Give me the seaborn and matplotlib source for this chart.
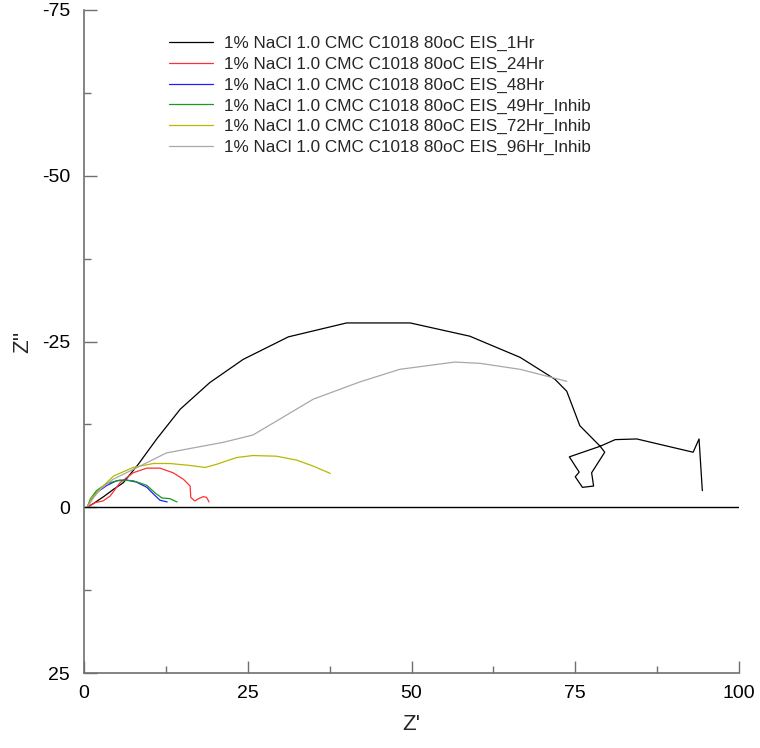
import numpy as np
import pandas as pd
import matplotlib
matplotlib.use("Agg")
import matplotlib.pyplot as plt
import seaborn as sns

labels = [
    "1% NaCl 1.0 CMC C1018 80oC EIS_1Hr",
    "1% NaCl 1.0 CMC C1018 80oC EIS_24Hr",
    "1% NaCl 1.0 CMC C1018 80oC EIS_48Hr",
    "1% NaCl 1.0 CMC C1018 80oC EIS_49Hr_Inhib",
    "1% NaCl 1.0 CMC C1018 80oC EIS_72Hr_Inhib",
    "1% NaCl 1.0 CMC C1018 80oC EIS_96Hr_Inhib",
]
colors = ["#000000", "#ff3030", "#2020ff", "#1a9a1a", "#b8b800", "#a8a8a8"]

zre_1h = [0.5, 1.5, 3.0, 4.5, 6.0, 8.3, 11.1, 14.7, 19.2, 24.3, 31.2, 40.1, 49.8,
          58.9, 66.6, 71.9, 73.7, 75.7, 78.8, 79.5, 77.5, 77.8, 76.1, 75.0, 75.6,
          74.1, 78.8, 81.1, 84.4, 93.0, 93.9, 94.4]
zim_1h = [0.0, -0.6, -1.6, -2.7, -3.7, -6.5, -10.3, -14.8, -18.8, -22.3, -25.7,
          -27.8, -27.8, -25.8, -22.6, -19.3, -17.5, -12.3, -9.2, -8.3, -5.2, -3.2,
          -3.0, -4.6, -5.3, -7.6, -9.2, -10.2, -10.3, -8.3, -10.3, -2.5]

zre_24h = [0.5, 1.7, 2.9, 4.0, 5.5, 7.5, 9.6, 11.6, 13.6, 15.2, 16.2, 16.3, 16.9,
           17.5, 18.2, 18.7, 19.1]
zim_24h = [0.0, -0.7, -0.95, -1.7, -3.7, -5.2, -5.9, -5.9, -5.2, -4.2, -3.2,
           -1.5, -0.95, -1.3, -1.6, -1.5, -0.8]

zre_48h = [0.5, 1.0, 1.9, 3.5, 5.0, 6.5, 8.0, 9.6, 10.6, 11.6, 12.7]
zim_48h = [0.0, -1.1, -2.2, -3.3, -4.0, -4.1, -3.8, -3.0, -2.0, -1.06, -0.8]

zre_49h = [0.5, 1.0, 1.9, 3.5, 5.5, 7.5, 9.6, 10.8, 11.9, 13.1, 14.2]
zim_49h = [0.0, -1.3, -2.5, -3.6, -4.1, -4.0, -3.3, -2.2, -1.4, -1.3, -0.8]

zre_72h = [0.5, 1.2, 2.4, 4.5, 7.5, 10.6, 13.1, 16.2, 18.5, 20.3, 23.3, 25.8,
           29.4, 32.5, 35.0, 37.6]
zim_72h = [0.0, -1.4, -2.7, -4.7, -6.0, -6.6, -6.6, -6.3, -6.0, -6.5, -7.5, -7.8,
           -7.7, -7.1, -6.2, -5.1]

zre_96h = [0.5, 1.5, 2.6, 4.4, 7.5, 12.6, 21.3, 25.8, 29.9, 35.0, 42.1, 48.2,
           56.6, 60.5, 66.6, 73.7]
zim_96h = [0.0, -1.5, -2.8, -4.2, -5.7, -8.2, -9.8, -10.9, -13.3, -16.3, -18.9,
           -20.8, -21.9, -21.7, -20.8, -19.0]

xs = [zre_1h, zre_24h, zre_48h, zre_49h, zre_72h, zre_96h]
ys = [zim_1h, zim_24h, zim_48h, zim_49h, zim_72h, zim_96h]

frames = []
for lab, x, y in zip(labels, xs, ys):
    frames.append(pd.DataFrame({"Zre": x, "Zim": y, "series": lab,
                                "order": np.arange(len(x))}))
df = pd.concat(frames, ignore_index=True)

sns.set_style("white")
plt.rcParams["font.family"] = ["Liberation Sans", "DejaVu Sans"]
plt.rcParams["axes.unicode_minus"] = False

fig = plt.figure(figsize=(7.6, 7.48), dpi=100)
ax = fig.add_axes([84 / 760, 1 - 673 / 748, 655 / 760, 663 / 748])

sns.lineplot(data=df, x="Zre", y="Zim", hue="series", hue_order=labels,
             palette=dict(zip(labels, colors)), sort=False, estimator=None,
             linewidth=0.9, ax=ax)

ax.axhline(0, color="black", linewidth=1.0)

ax.set_xlim(0, 100)
ax.set_ylim(25, -75)
ax.set_xticks([0, 25, 50, 75, 100])
ax.set_yticks([-75, -50, -25, 0, 25])
ax.set_xticks([12.5, 37.5, 62.5, 87.5], minor=True)
ax.set_yticks([-62.5, -37.5, -12.5, 12.5], minor=True)
ax.tick_params(which="both", bottom=True, left=True, top=False, right=False)
ax.tick_params(which="major", direction="in", length=9, width=1, color="#707070",
               labelsize=14, labelcolor="black")
ax.tick_params(which="minor", direction="in", length=5, width=1, color="#707070")
ax.tick_params(axis="x", pad=9)
ax.tick_params(axis="y", pad=10)

for s in ["top", "right"]:
    ax.spines[s].set_visible(False)
for s in ["left", "bottom"]:
    ax.spines[s].set_color("#707070")
    ax.spines[s].set_linewidth(1.2)

ax.set_xlabel("Z'", fontsize=16, labelpad=8)
ax.set_ylabel("Z''", fontsize=16, labelpad=6)

ax.legend(frameon=False, loc="upper left", bbox_to_anchor=(0.119, 0.971),
          fontsize=12.3, handlelength=2.6, handletextpad=0.65, labelspacing=0.33,
          borderaxespad=0)

fig.savefig("out.png", dpi=100)
